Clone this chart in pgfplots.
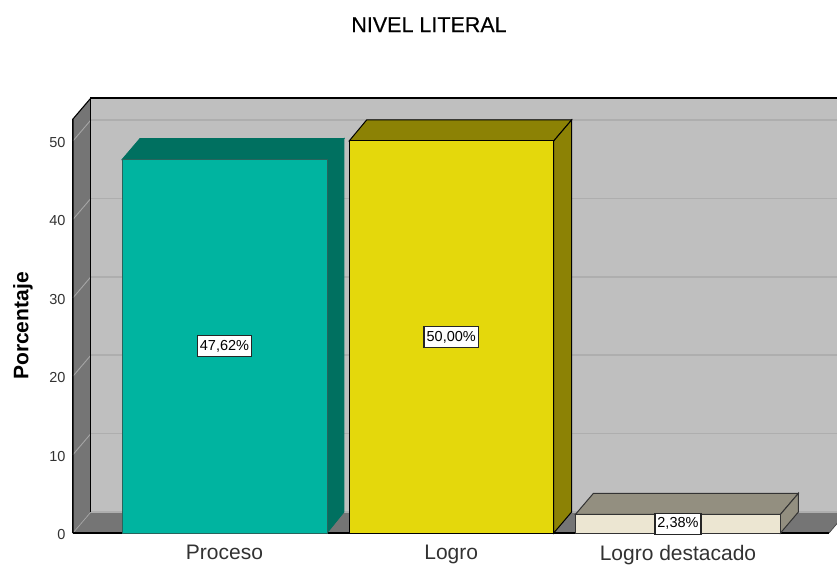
\documentclass[border=0pt]{standalone}
\usepackage{pgfplots}
\pgfplotsset{compat=1.18}
\usepackage{fontspec}
\setmainfont{Liberation Sans}
\newfontfamily\titlefont[FakeBold=0.35]{Liberation Sans}
\definecolor{wallc}{RGB}{191,191,191}
\definecolor{sidec}{RGB}{117,117,117}
\definecolor{gridb}{RGB}{174,174,174}
\definecolor{gridl}{RGB}{165,165,165}
\definecolor{teal1}{RGB}{0,180,160}
\definecolor{teal2}{RGB}{0,112,96}
\definecolor{teale}{RGB}{40,100,92}
\definecolor{yel1}{RGB}{228,216,12}
\definecolor{yel2}{RGB}{140,130,5}
\definecolor{cre1}{RGB}{236,230,210}
\definecolor{cre2}{RGB}{147,143,128}
\definecolor{txt}{RGB}{50,50,50}
\begin{document}
\begin{tikzpicture}
\useasboundingbox (-73pt,-32pt) rectangle (764pt,533pt);
\begin{axis}[
  scale only axis, width=756pt, height=414pt,
  xmin=-0.668, xmax=2.666, ymin=0, ymax=52.8,
  clip=false,
  axis lines=left, axis line style={-, black, line width=1pt},
  major tick length=0pt,
  xtick={0,1,2}, xticklabels={Proceso,Logro,Logro destacado},
  ytick={0,10,20,30,40,50},
  xticklabel style={font=\fontsize{21}{25}\selectfont, text=txt, yshift=-9pt},
  yticklabel style={font=\fontsize{14.5}{17}\selectfont, text=txt, xshift=-4pt, yshift=-1.5pt},
  /pgf/number format/assume math mode=true,
  title={NIVEL LITERAL},
  title style={font=\titlefont\fontsize{21.5}{25}\selectfont, text=black, at={(axis description cs:0.4709,1.1955)}, anchor=base},
  ylabel={\textbf{Porcentaje}},
  ylabel style={font=\fontsize{21}{25}\selectfont, text=black, at={(axis description cs:-0.0661,0.5)}, anchor=center},
]
% back wall, floor, side wall
\addplot[fill=wallc, draw=none, forget plot] coordinates {(-0.589,2.68) (2.745,2.68) (2.745,55.48) (-0.589,55.48)} -- cycle;
\addplot[fill=sidec, draw=none, forget plot] coordinates {(-0.668,0) (2.666,0) (2.745,2.68) (-0.589,2.68)} -- cycle;
\addplot[fill=sidec, draw=none, forget plot] coordinates {(-0.668,0) (-0.589,2.68) (-0.589,55.48) (-0.668,52.8)} -- cycle;
% grid on back wall
\addplot[gridb, line width=1.6pt, forget plot] coordinates {(-0.589,12.68) (2.745,12.68)};
\addplot[gridb, line width=1.6pt, forget plot] coordinates {(-0.589,22.68) (2.745,22.68)};
\addplot[gridb, line width=1.6pt, forget plot] coordinates {(-0.589,32.68) (2.745,32.68)};
\addplot[gridb, line width=1.6pt, forget plot] coordinates {(-0.589,42.68) (2.745,42.68)};
\addplot[gridb, line width=1.6pt, forget plot] coordinates {(-0.589,52.68) (2.745,52.68)};
% grid on side wall
\addplot[gridl, line width=0.9pt, forget plot] coordinates {(-0.668,10) (-0.589,12.68)};
\addplot[gridl, line width=0.9pt, forget plot] coordinates {(-0.668,20) (-0.589,22.68)};
\addplot[gridl, line width=0.9pt, forget plot] coordinates {(-0.668,30) (-0.589,32.68)};
\addplot[gridl, line width=0.9pt, forget plot] coordinates {(-0.668,40) (-0.589,42.68)};
\addplot[gridl, line width=0.9pt, forget plot] coordinates {(-0.668,50) (-0.589,52.68)};
\addplot[gridl, line width=0.7pt, forget plot] coordinates {(-0.668,0) (-0.589,2.68)};
\addplot[gridb, line width=1.2pt, forget plot] coordinates {(-0.589,2.68) (2.745,2.68)};
% wall outline
\addplot[black, line width=1.1pt, forget plot] coordinates {(-0.589,2.68) (-0.589,55.48) (2.745,55.48)};
\addplot[black, line width=1.1pt, forget plot] coordinates {(-0.668,0) (-0.668,52.8) (-0.589,55.48)};
\addplot[black, line width=1.1pt, forget plot] coordinates {(-0.668,0) (2.666,0)};
\addplot[sidec!60!black, line width=0.7pt, forget plot] coordinates {(2.666,0) (2.745,2.68)};
% Proceso
\addplot[fill=teal2, draw=teal2, line width=0.8pt, forget plot] coordinates {(-0.452,47.62) (0.452,47.62) (0.527,50.30) (-0.373,50.30)} -- cycle;
\addplot[fill=teal2, draw=teal2, line width=0.8pt, forget plot] coordinates {(0.452,0) (0.527,2.68) (0.527,50.30) (0.452,47.62)} -- cycle;
\addplot[fill=teal1, draw=teale, line width=0.8pt, forget plot] coordinates {(-0.452,0) (0.452,0) (0.452,47.62) (-0.452,47.62)} -- cycle;
% Logro
\addplot[fill=yel2, draw=black, line width=1pt, forget plot] coordinates {(0.550,50) (1.452,50) (1.531,52.68) (0.627,52.68)} -- cycle;
\addplot[fill=yel2, draw=black, line width=1pt, forget plot] coordinates {(1.452,0) (1.531,2.68) (1.531,52.68) (1.452,50)} -- cycle;
\addplot[fill=yel1, draw=black, line width=1pt, forget plot] coordinates {(0.550,0) (1.452,0) (1.452,50) (0.550,50)} -- cycle;
% Logro destacado
\addplot[fill=cre2, draw=black!80, line width=1pt, forget plot] coordinates {(1.548,2.38) (2.452,2.38) (2.531,5.06) (1.627,5.06)} -- cycle;
\addplot[fill=cre2, draw=black!80, line width=1pt, forget plot] coordinates {(2.452,0) (2.531,2.68) (2.531,5.06) (2.452,2.38)} -- cycle;
\addplot[fill=cre1, draw=black!80, line width=1pt, forget plot] coordinates {(1.548,0) (2.452,0) (2.452,2.38) (1.548,2.38)} -- cycle;
% value labels
\addplot[draw=none, forget plot, point meta=explicit,
  nodes near coords={\pgfmathprintnumber[fixed,fixed zerofill,precision=2,use comma]{\pgfplotspointmeta}\%},
  nodes near coords style={anchor=center, font=\fontsize{14.5}{16}\selectfont, text=black, fill=white, draw=black!85, line width=1.3pt, inner xsep=2.5pt, inner ysep=1.5pt, minimum height=21pt, /pgf/number format/assume math mode=true}]
  coordinates {(0,23.81) [47.62] (1,25.00) [50.00] (2,1.19) [2.38]};
\end{axis}
\end{tikzpicture}
\end{document}
